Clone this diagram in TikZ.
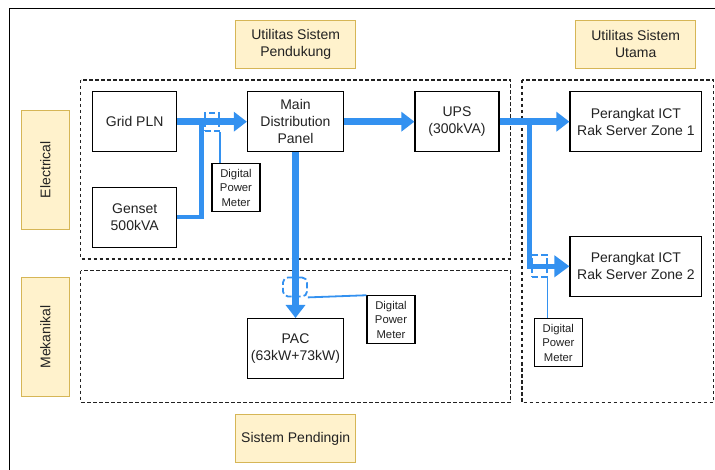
\documentclass[tikz,border=0pt]{standalone}
\usepackage{fontspec}
\setmainfont{Liberation Sans}
\usetikzlibrary{arrows.meta}
\definecolor{flow}{RGB}{51,145,240}
\definecolor{lblfill}{RGB}{255,242,204}
\definecolor{lbldraw}{RGB}{214,182,86}
\definecolor{ink}{RGB}{34,34,34}
\begin{document}
\begin{tikzpicture}[x=1pt,y=-1pt,
  blk/.style={draw=black, line width=1.2pt, fill=white, inner sep=0pt, align=center,
    text=ink, font=\fontsize{14}{17}\selectfont},
  meterbox/.style={draw=black, line width=1.1pt, fill=white, inner sep=0pt, align=center,
    minimum width=48pt, minimum height=48pt, text=ink, font=\fontsize{11.3}{14.5}\selectfont},
  lbl/.style={draw=lbldraw, fill=lblfill, line width=1pt, inner sep=0pt, align=center,
    text=ink, font=\fontsize{14}{17.5}\selectfont},
  region/.style={draw=ink, line width=1.1pt, dash pattern=on 3.5pt off 2.5pt},
  mainflow/.style={draw=flow, line width=6.5pt, -{Triangle[length=13pt,width=19pt]}},
  subflow/.style={draw=flow, line width=4.5pt},
  ctsym/.style={draw=flow, line width=1.8pt, dash pattern=on 6pt off 3pt, inner sep=0pt},
  meterline/.style={draw=flow, line width=1.8pt}
]
\useasboundingbox (0,0) rectangle (715,470);
\fill[white] (0,0) rectangle (715,470);
% outer frame (only top and left visible)
\draw[line width=1.5pt, black] (715,8.5) -- (9.3,8.5) -- (9.3,470);

% dashed regions
\draw[region] (80.7,80) rectangle (510.7,259);
\draw[region] (80.7,270.7) rectangle (510.7,402.3);
\draw[region] (522,80) rectangle (713.6,402.3);

% title labels
\node[lbl, minimum width=120pt, minimum height=48pt] (t1) at (295.7,44.2) {Utilitas Sistem\\Pendukung};
\node[lbl, minimum width=120pt, minimum height=48pt] (t2) at (635.7,44.2) {Utilitas Sistem\\Utama};
\node[lbl, minimum width=120pt, minimum height=48pt] (t3) at (295.7,438.5) {Sistem Pendingin};
\node[lbl, minimum width=119pt, minimum height=48pt, rotate=90] (elec) at (45.4,169.7) {Electrical};
\node[lbl, minimum width=119pt, minimum height=48pt, rotate=90] (mek) at (45.4,337) {Mekanikal};

% main blocks
\node[blk, minimum width=84pt, minimum height=60pt] (grid) at (134.7,121.7) {Grid PLN};
\node[blk, minimum width=84pt, minimum height=60pt] (genset) at (134.7,217.3) {Genset\\500kVA};
\node[blk, minimum width=96pt, minimum height=60pt] (mdp) at (295.5,121.7) {Main\\Distribution\\Panel};
\node[blk, minimum width=84pt, minimum height=60pt] (ups) at (457,121.7) {UPS\\(300kVA)};
\node[blk, minimum width=131.7pt, minimum height=60pt] (ict1) at (635.9,121.7) {Perangkat ICT\\Rak Server Zone 1};
\node[blk, minimum width=131.7pt, minimum height=60pt] (ict2) at (635.9,266.3) {Perangkat ICT\\Rak Server Zone 2};
\node[blk, minimum width=96pt, minimum height=60pt] (pac) at (295.5,348.6) {PAC\\(63kW+73kW)};

% digital power meters
\node[meterbox] (dpm1) at (236,187.5) {Digital\\Power\\Meter};
\node[meterbox] (dpm2) at (391,319.8) {Digital\\Power\\Meter};
\node[meterbox] (dpm3) at (558.3,342.5) {Digital\\Power\\Meter};

% current transformer symbols
\node[ctsym, minimum width=14pt, minimum height=18pt] (ct1) at (212,122) {};
\node[ctsym, rounded corners=5pt, minimum width=24pt, minimum height=19pt] (ct2) at (295,287) {};
\node[ctsym, minimum width=14.7pt, minimum height=21.7pt] (ct3) at (539.3,265.8) {};

% meter signal lines
\draw[meterline] (ct1.south east) -- (ct1.south east |- dpm1.north);
\draw[meterline] (ct2.south east) -- (dpm2.north west);
\draw[meterline] (ct3.south east) -- (ct3.south east |- dpm3.north);

% power flows
\coordinate (gj) at (201.3,121.7);
\coordinate (uj) at (529.5,121.7);
\draw[subflow] (genset.east |- 0,217) -- (201.3,217) -- (gj);
\draw[mainflow] (grid.east) -- (mdp.west);
\draw[mainflow] (mdp.south) -- (pac.north);
\draw[mainflow] (ups.east) -- (ict1.west);
\draw[subflow, -{Triangle[length=15pt,width=21pt]}] (uj) -- (uj |- ict2.west) -- (ict2.west);
\draw[mainflow] (mdp.east) -- (ups.west);
\end{tikzpicture}
\end{document}
